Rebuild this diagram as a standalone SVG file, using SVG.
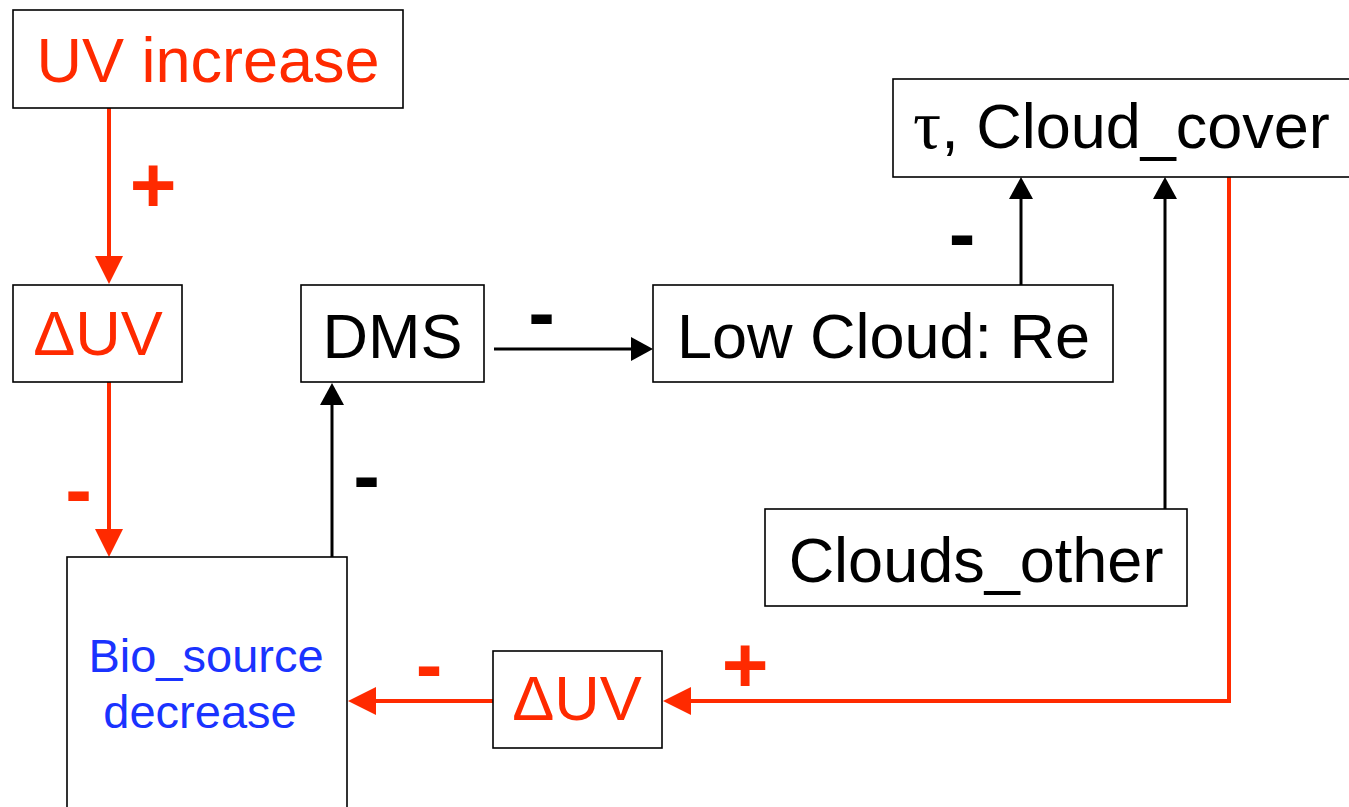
<svg xmlns="http://www.w3.org/2000/svg" width="1349" height="807" viewBox="0 0 1349 807">
<style>
.box{fill:#fff;stroke:#000;stroke-width:1.6}
.t{font-family:"Liberation Sans",Arial,sans-serif;font-size:63px;text-anchor:middle}
.red{fill:#ff2a00}
.blk{fill:#000}
.blue{fill:#1a33ff}
.sgn{font-family:"Liberation Sans",Arial,sans-serif;font-size:80px;font-weight:bold;text-anchor:middle}
.rl{fill:none;stroke:#ff2a00;stroke-width:4}
.bl{fill:none;stroke:#000;stroke-width:3}
</style>
<defs>
<marker id="ah-red" viewBox="0 0 28 28" refX="0" refY="14" markerWidth="28" markerHeight="28" markerUnits="userSpaceOnUse" orient="auto">
<path d="M0,0 L28,14 L0,28 z" fill="#ff2a00"/>
</marker>
<marker id="ah-blk" viewBox="0 0 22 24" refX="0" refY="12" markerWidth="22" markerHeight="24" markerUnits="userSpaceOnUse" orient="auto">
<path d="M0,0 L22,12 L0,24 z" fill="#000"/>
</marker>
</defs>
<g id="connectors">
<path class="rl" d="M109,108 V256" marker-end="url(#ah-red)"/>
<path class="rl" d="M109,382 V529" marker-end="url(#ah-red)"/>
<path class="bl" d="M332,557 V405" marker-end="url(#ah-blk)"/>
<path class="bl" d="M494,349 H631" marker-end="url(#ah-blk)"/>
<path class="bl" d="M1021,285 V199" marker-end="url(#ah-blk)"/>
<path class="bl" d="M1165,509 V199" marker-end="url(#ah-blk)"/>
<path class="rl" d="M1229,173 V701 H691" marker-end="url(#ah-red)"/>
<path class="rl" d="M493,701 H376" marker-end="url(#ah-red)"/>
<text class="sgn red" x="153" y="212">+</text>
<text class="sgn red" x="78.5" y="517">-</text>
<text class="sgn blk" x="366.5" y="503">-</text>
<text class="sgn blk" x="541.5" y="340">-</text>
<text class="sgn blk" x="962" y="261">-</text>
<text class="sgn red" x="745" y="692">+</text>
<text class="sgn red" x="429" y="692">-</text>
</g>
<g id="uv-increase">
<rect class="box" x="13" y="10" width="390" height="98"/>
<text class="t red" x="208" y="82">UV increase</text>
</g>
<g id="duv1">
<rect class="box" x="13" y="285" width="169" height="97"/>
<text class="t red" x="98" y="355">ΔUV</text>
</g>
<g id="dms">
<rect class="box" x="301" y="285" width="183" height="97"/>
<text class="t blk" x="392.5" y="358">DMS</text>
</g>
<g id="low-cloud">
<rect class="box" x="653" y="285" width="460" height="97"/>
<text class="t blk" x="883.5" y="358">Low Cloud: Re</text>
</g>
<g id="tau-cloud-cover">
<rect class="box" x="893" y="79" width="470" height="98"/>
<text class="t blk" x="913" y="148" style="text-anchor:start"><tspan style="font-family:'Liberation Serif','Times New Roman',serif;font-size:70px">τ</tspan>, Cloud_cover</text>
</g>
<g id="clouds-other">
<rect class="box" x="765" y="509" width="422" height="97"/>
<text class="t blk" x="976" y="582">Clouds_other</text>
</g>
<g id="bio-source">
<rect class="box" x="67" y="557" width="280" height="270"/>
<text class="t blue" x="206" y="672" style="font-size:47px">Bio_source</text>
<text class="t blue" x="200" y="728" style="font-size:47px">decrease</text>
</g>
<g id="duv2">
<rect class="box" x="493" y="651" width="169" height="97"/>
<text class="t red" x="577" y="720">ΔUV</text>
</g>
</svg>
